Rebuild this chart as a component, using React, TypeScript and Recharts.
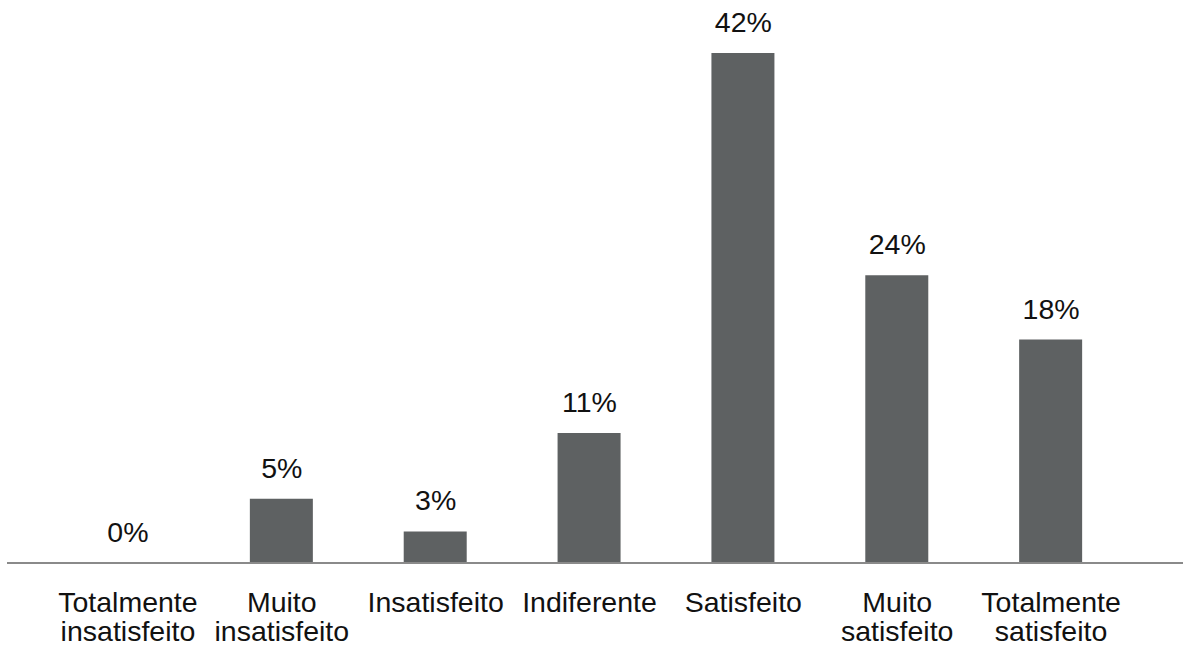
import { ComposedChart, Bar, Line, XAxis, YAxis, LabelList } from "recharts";

// Satisfaction survey answers (share of respondents, %)
const categories = [
  ["Totalmente", "insatisfeito"],
  ["Muito", "insatisfeito"],
  ["Insatisfeito"],
  ["Indiferente"],
  ["Satisfeito"],
  ["Muito", "satisfeito"],
  ["Totalmente", "satisfeito"],
];
const shares = [0, 5.3, 2.6, 10.7, 42, 23.7, 18.4];
const shareLabels = ["0%", "5%", "3%", "11%", "42%", "24%", "18%"];

const data = categories.map((lines, i) => ({
  name: lines.join(" "),
  value: shares[i],
  label: shareLabels[i],
}));

const FONT = "'Liberation Sans', Arial, sans-serif";
const FONT_SIZE = 28.5;

const CategoryTick = ({ x, y, index }: any) => {
  const lines = categories[index] || [];
  return (
    <text x={x} y={y} textAnchor="middle" fill="#111" fontSize={FONT_SIZE} fontFamily={FONT}>
      {lines.map((line, i) => (
        <tspan key={i} x={x} y={y + 49 + i * 28.5}>
          {line}
        </tspan>
      ))}
    </text>
  );
};

export default function App() {
  return (
    <div style={{ position: "absolute", left: 0, top: 0, width: 1184, height: 648, background: "#fff" }}>
      <ComposedChart
        width={1184}
        height={648}
        data={data}
        margin={{ top: 53, right: 1, left: 7, bottom: 25 }}
      >
        <XAxis
          dataKey="name"
          height={60}
          padding={{ left: 44, right: 55 }}
          axisLine={{ stroke: "#8a8a8a", strokeWidth: 2 }}
          tickLine={false}
          tickSize={0}
          tickMargin={0}
          interval={0}
          tick={<CategoryTick />}
        />
        <YAxis hide domain={[0, 42]} />
        <Bar dataKey="value" fill="#5e6162" barSize={63} isAnimationActive={false} />
        {/* invisible line just to carry the % labels (also for the 0 bar) */}
        <Line
          dataKey="value"
          stroke="none"
          dot={false}
          activeDot={false}
          isAnimationActive={false}
        >
          <LabelList
            dataKey="label"
            position="top"
            offset={21}
            fill="#111"
            fontSize={FONT_SIZE}
            fontFamily={FONT}
          />
        </Line>
      </ComposedChart>
    </div>
  );
}
